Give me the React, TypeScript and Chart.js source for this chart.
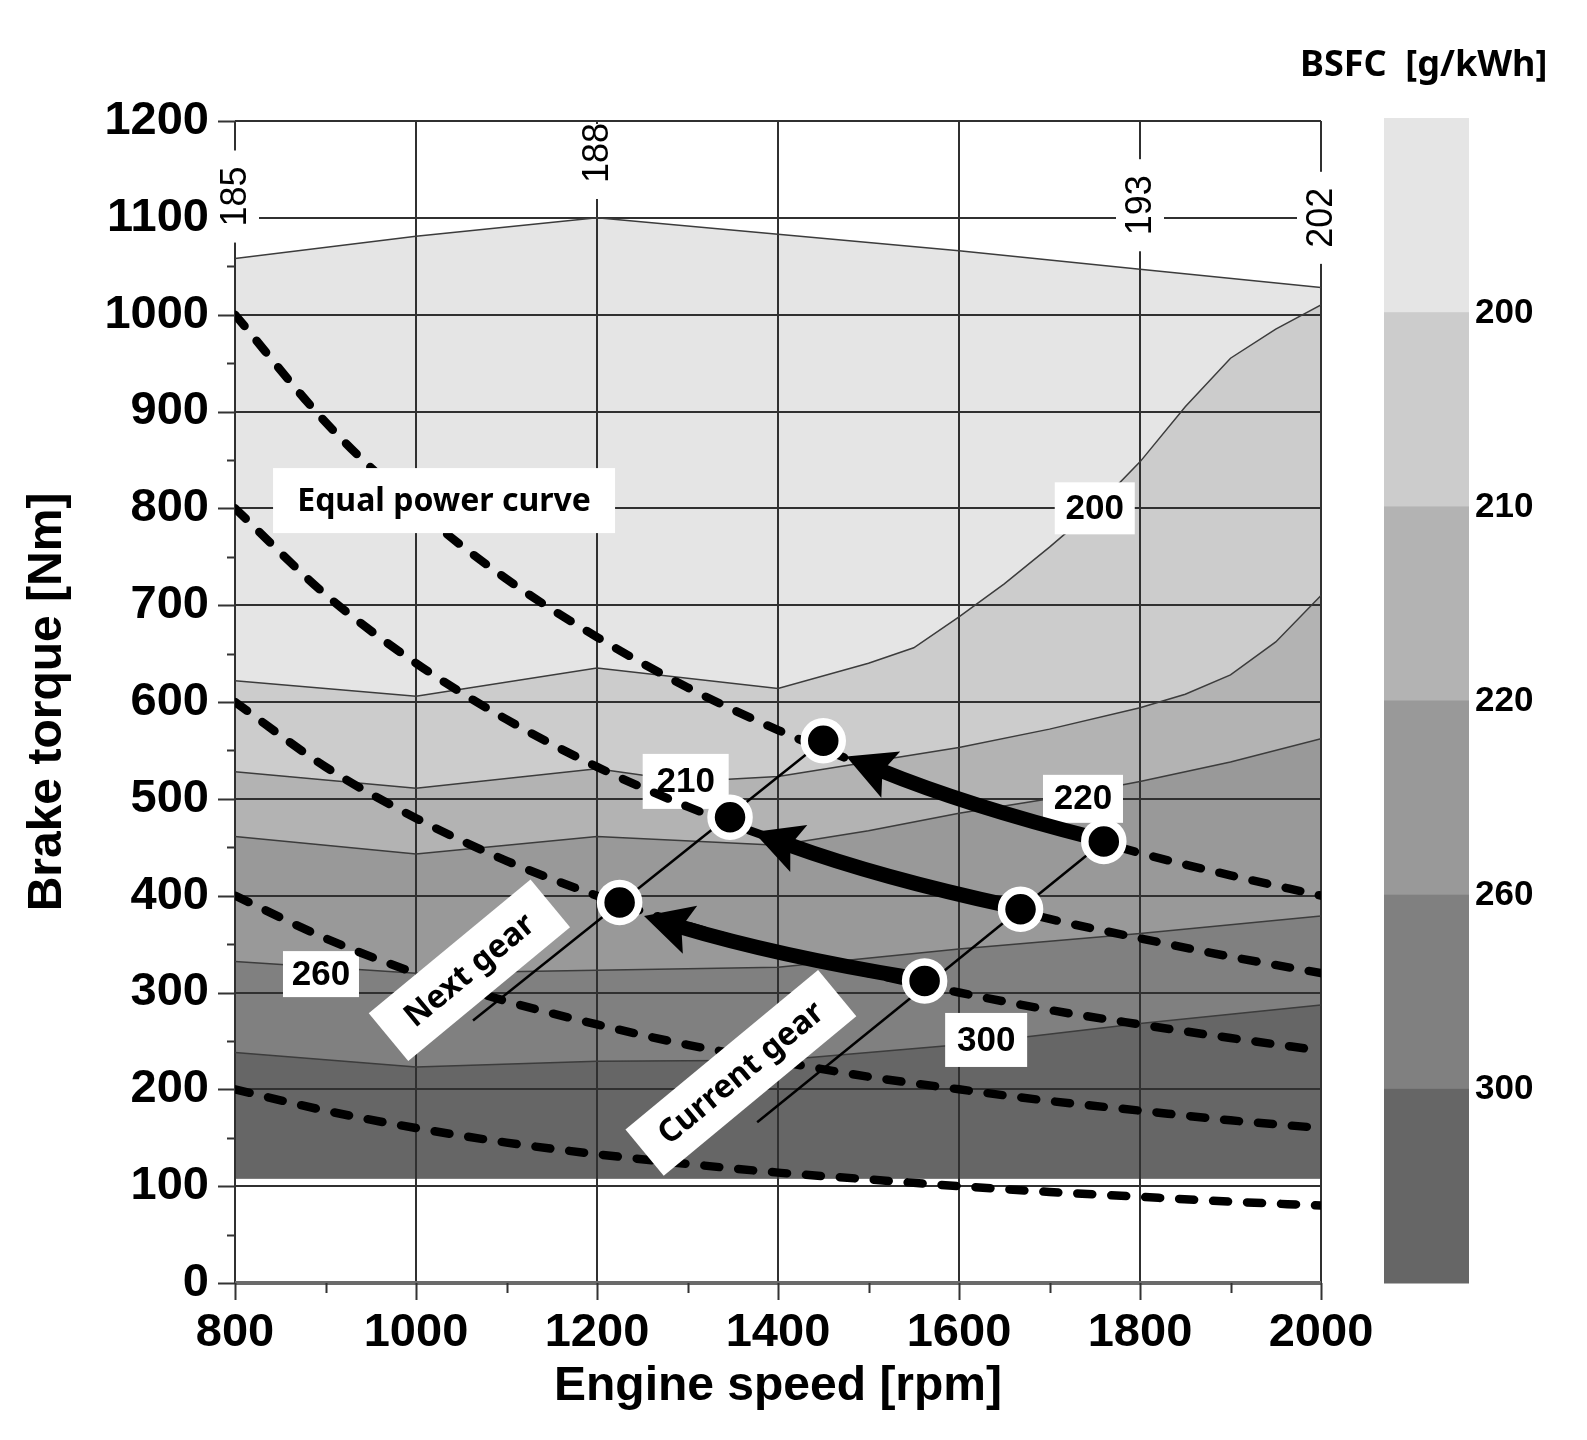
import React, { useEffect, useRef } from 'react';
import { Chart, registerables } from 'chart.js';

Chart.register(...registerables);

// ---------- data ----------
const powerRpm = [800, 900, 1000, 1100, 1200, 1300, 1400, 1500, 1600, 1700, 1800, 1900, 2000];
const power1Nm = [1000, 889, 800, 727, 667, 615, 571, 533, 500, 471, 444, 421, 400];
const power2Nm = [800, 711, 640, 582, 533, 492, 457, 427, 400, 376, 356, 337, 320];
const power3Nm = [600, 533, 480, 436, 400, 369, 343, 320, 300, 282, 267, 253, 240];
const power4Nm = [400, 356, 320, 291, 267, 246, 229, 213, 200, 188, 178, 168, 160];
const power5Nm = [200, 178, 160, 145, 133, 123, 114, 107, 100, 94, 89, 84, 80];

const maxTorqueRpm = [800, 1000, 1200, 1400, 1600, 1800, 2000];
const maxTorqueNm = [1058, 1081, 1100, 1083, 1066, 1047, 1028];

const bsfc200Rpm = [800, 1000, 1200, 1400, 1500, 1550, 1600, 1650, 1700, 1750, 1800, 1850, 1900, 1950, 2000];
const bsfc200Nm = [622, 606, 635, 614, 640, 656, 688, 722, 760, 800, 848, 905, 955, 985, 1010];

const bsfc210Rpm = [800, 1000, 1200, 1300, 1400, 1500, 1600, 1700, 1800, 1850, 1900, 1950, 2000];
const bsfc210Nm = [528, 511, 531, 518, 523, 538, 553, 572, 594, 608, 628, 662, 710];

const bsfc220Rpm = [800, 1000, 1200, 1400, 1500, 1600, 1700, 1800, 1900, 2000];
const bsfc220Nm = [461, 443, 461, 452, 467, 485, 500, 518, 538, 562];

const bsfc260Rpm = [800, 1000, 1200, 1400, 1600, 1800, 2000];
const bsfc260Nm = [332, 320, 323, 326, 345, 361, 379];

const bsfc300Rpm = [800, 1000, 1200, 1400, 1600, 1800, 2000];
const bsfc300Nm = [238, 223, 229, 230, 246, 268, 287];

const mapFloorNm = 108;

const nextGearLineRpm = [1063, 1450];
const nextGearLineNm = [271, 560];
const currentGearLineRpm = [1377, 1760];
const currentGearLineNm = [166, 456];

const shiftFromRpm = [1760, 1668, 1562];
const shiftFromNm = [456, 386, 312];
const shiftToRpm = [1450, 1347, 1225];
const shiftToNm = [560, 481, 393];

const bsfcLevels = ['200', '210', '220', '260', '300'];
const bsfcColors = ['#e5e5e5', '#cccccc', '#b3b3b3', '#999999', '#808080', '#666666'];

const contourLabelText = ['200', '210', '220', '260', '300'];
const contourLabelRpm = [1750, 1298, 1737, 895, 1630];
const contourLabelNm = [800, 518, 500, 319, 251];

const topLabelText = ['185', '188', '193', '202'];
const topLabelRpm = [800, 1200, 1800, 2000];
const topLabelNm = [1122, 1167, 1113, 1100];

const gearLabelText = ['Next gear', 'Current gear'];
const gearLabelRpm = [1059, 1359];
const gearLabelNm = [323, 217];

const powerLabelText = 'Equal power curve';
const powerLabelRpm = 1031;
const powerLabelNm = 808;

// ---------- styling ----------
const NUM_FONT = "'Liberation Sans', Arial, sans-serif";
const TXT_FONT = "'Noto Sans', 'Open Sans', sans-serif";
const GRID = '#303030';

const pts = (xs: number[], ys: number[]) => xs.map((x, i) => ({ x, y: ys[i] }));

const contourDs = (xs: number[], ys: number[], color: string) => ({
  data: pts(xs, ys),
  borderColor: '#3c3c3c',
  borderWidth: 1.5,
  backgroundColor: color,
  fill: { value: mapFloorNm },
  pointRadius: 0,
  tension: 0,
});

const powerDs = (ys: number[]) => ({
  data: pts(powerRpm, ys),
  borderColor: '#000',
  borderWidth: 8.5,
  borderDash: [15, 19],
  borderCapStyle: 'round',
  fill: false,
  pointRadius: 0,
  cubicInterpolationMode: 'monotone',
});

function boxText(ctx: any, cx: number, cy: number, w: number, h: number, text: string, font: string, angle = 0) {
  ctx.save();
  ctx.translate(cx, cy);
  ctx.rotate((angle * Math.PI) / 180);
  ctx.fillStyle = '#fff';
  ctx.fillRect(-w / 2, -h / 2, w, h);
  ctx.fillStyle = '#000';
  ctx.font = font;
  ctx.textAlign = 'center';
  ctx.textBaseline = 'middle';
  ctx.fillText(text, 0, 1);
  ctx.restore();
}

function drawArrow(ctx: any, sx: number, sy: number, ex: number, ey: number) {
  const dx = ex - sx, dy = ey - sy;
  const len = Math.hypot(dx, dy);
  const ux = dx / len, uy = dy / len;
  let nx = uy, ny = -ux;
  if (ny < 0) { nx = -nx; ny = -ny; }
  const stx = sx + ux * 10, sty = sy + uy * 10;
  const tipx = ex - ux * 27 + nx * 7, tipy = ey - uy * 27 + ny * 7;
  const cx = (stx + tipx) / 2 + nx * 9, cy = (sty + tipy) / 2 + ny * 9;
  let tx = tipx - cx, ty = tipy - cy;
  const tl = Math.hypot(tx, ty);
  tx /= tl; ty /= tl;
  const px = -ty, py = tx;
  const headLen = 48, hw = 25, notch = 9;
  const bx = tipx - tx * (headLen - notch - 2), by = tipy - ty * (headLen - notch - 2);
  ctx.save();
  ctx.strokeStyle = '#000';
  ctx.lineWidth = 15;
  ctx.lineCap = 'butt';
  ctx.beginPath();
  ctx.moveTo(stx, sty);
  ctx.quadraticCurveTo(cx, cy, bx, by);
  ctx.stroke();
  ctx.fillStyle = '#000';
  ctx.beginPath();
  ctx.moveTo(tipx, tipy);
  ctx.lineTo(tipx - tx * headLen + px * hw, tipy - ty * headLen + py * hw);
  ctx.lineTo(tipx - tx * (headLen - notch), tipy - ty * (headLen - notch));
  ctx.lineTo(tipx - tx * headLen - px * hw, tipy - ty * headLen - py * hw);
  ctx.closePath();
  ctx.fill();
  ctx.restore();
}

const overlayPlugin = {
  id: 'overlay',
  beforeDatasetDraw(chart: any, args: any) {
    const ctx = chart.ctx;
    const xs = chart.scales.x, ys = chart.scales.y;
    if (args.index === 7) {
      const sizes = [[80, 52], [86, 55], [80, 48], [76, 46], [82, 54]];
      contourLabelText.forEach((t, i) => {
        boxText(ctx, xs.getPixelForValue(contourLabelRpm[i]), ys.getPixelForValue(contourLabelNm[i]),
          sizes[i][0], sizes[i][1], t, `bold 35px ${NUM_FONT}`);
      });
    }
    if (args.index === 0) {
      shiftFromRpm.forEach((r, i) => {
        drawArrow(ctx, xs.getPixelForValue(r), ys.getPixelForValue(shiftFromNm[i]),
          xs.getPixelForValue(shiftToRpm[i]), ys.getPixelForValue(shiftToNm[i]));
      });
    }
  },
  afterDraw(chart: any) {
    const ctx = chart.ctx;
    const xs = chart.scales.x, ys = chart.scales.y;
    const a = chart.chartArea;
    // tick marks
    ctx.save();
    ctx.strokeStyle = '#333';
    ctx.lineWidth = 2;
    ctx.beginPath();
    for (let v = 0; v <= 1200; v += 50) {
      const y = Math.round(ys.getPixelForValue(v)) + 0.5;
      const l = v % 100 === 0 ? 17 : 8;
      ctx.moveTo(a.left - l, y);
      ctx.lineTo(a.left, y);
    }
    for (let v = 800; v <= 2000; v += 100) {
      const x = Math.round(xs.getPixelForValue(v)) + 0.5;
      const l = v % 200 === 0 ? 17 : 10;
      ctx.moveTo(x, a.bottom);
      ctx.lineTo(x, a.bottom + l);
    }
    ctx.stroke();
    ctx.restore();

    // rotated top labels
    ctx.save();
    ctx.font = `36px ${NUM_FONT}`;
    topLabelText.forEach((t, i) => {
      const cx = xs.getPixelForValue(topLabelRpm[i]);
      const cy = ys.getPixelForValue(topLabelNm[i]);
      const tw = ctx.measureText(t).width;
      let top = cy - tw / 2 - 16;
      const bot = cy + tw / 2 + 16;
      if (top < a.top + 3) top = a.top + 3;
      ctx.fillStyle = '#fff';
      ctx.fillRect(cx - 24, top, 48, bot - top);
      ctx.save();
      ctx.translate(cx, cy);
      ctx.rotate(-Math.PI / 2);
      ctx.fillStyle = '#000';
      ctx.textAlign = 'center';
      ctx.textBaseline = 'middle';
      ctx.fillText(t, 0, 1);
      ctx.restore();
    });
    ctx.restore();

    // equal power label
    boxText(ctx, xs.getPixelForValue(powerLabelRpm), ys.getPixelForValue(powerLabelNm), 342, 65,
      powerLabelText, `bold 32px ${TXT_FONT}`);

    // gear labels
    const gearSizes = [[210, 62], [250, 60]];
    gearLabelText.forEach((t, i) => {
      boxText(ctx, xs.getPixelForValue(gearLabelRpm[i]), ys.getPixelForValue(gearLabelNm[i]),
        gearSizes[i][0], gearSizes[i][1], t, `bold 32px ${TXT_FONT}`, -39.6);
    });

    // colour bar
    const cbL = 1384, cbR = 1469, cbT = a.top - 3, cbB = a.bottom;
    const bh = (cbB - cbT) / bsfcColors.length;
    bsfcColors.forEach((c, i) => {
      ctx.fillStyle = c;
      ctx.fillRect(cbL, cbT + i * bh, cbR - cbL, bh + 0.5);
    });
    ctx.save();
    ctx.fillStyle = '#000';
    ctx.font = `bold 35px ${NUM_FONT}`;
    ctx.textAlign = 'left';
    ctx.textBaseline = 'middle';
    bsfcLevels.forEach((t, i) => {
      ctx.fillText(t, 1475, cbT + (i + 1) * bh + 1);
    });
    ctx.font = `bold 36px ${TXT_FONT}`;
    ctx.fillText('BSFC  [g/kWh]', 1300, 66);
    ctx.restore();
  },
};

export default function App() {
  const ref = useRef<HTMLCanvasElement>(null);
  useEffect(() => {
    if (!ref.current) return;
    const chart = new Chart(ref.current, {
      type: 'line',
      data: {
        datasets: [
          {
            data: [...pts(shiftFromRpm, shiftFromNm), ...pts(shiftToRpm, shiftToNm)],
            showLine: false,
            pointRadius: 19,
            pointBorderWidth: 7.5,
            pointBackgroundColor: '#000',
            pointBorderColor: '#fff',
            borderColor: '#fff',
            backgroundColor: '#000',
          },
          { data: pts(nextGearLineRpm, nextGearLineNm), borderColor: '#000', borderWidth: 2.5, pointRadius: 0, fill: false },
          { data: pts(currentGearLineRpm, currentGearLineNm), borderColor: '#000', borderWidth: 2.5, pointRadius: 0, fill: false },
          powerDs(power1Nm),
          powerDs(power2Nm),
          powerDs(power3Nm),
          powerDs(power4Nm),
          powerDs(power5Nm),
          contourDs(bsfc300Rpm, bsfc300Nm, bsfcColors[5]),
          contourDs(bsfc260Rpm, bsfc260Nm, bsfcColors[4]),
          contourDs(bsfc220Rpm, bsfc220Nm, bsfcColors[3]),
          contourDs(bsfc210Rpm, bsfc210Nm, bsfcColors[2]),
          contourDs(bsfc200Rpm, bsfc200Nm, bsfcColors[1]),
          contourDs(maxTorqueRpm, maxTorqueNm, bsfcColors[0]),
        ] as any,
      },
      options: {
        responsive: false,
        devicePixelRatio: 1,
        animation: false,
        events: [],
        layout: { padding: { top: 121, right: 266, left: 0, bottom: 0 } },
        plugins: {
          legend: { display: false },
          tooltip: { enabled: false },
          filler: { drawTime: 'beforeDraw', propagate: false },
        },
        scales: {
          x: {
            type: 'linear',
            min: 800,
            max: 2000,
            afterFit: (s: any) => { s.height = 157; },
            border: { display: false },
            grid: { color: GRID, lineWidth: 2, drawTicks: false },
            ticks: {
              stepSize: 200,
              autoSkip: false,
              maxRotation: 0,
              padding: 22,
              color: '#000',
              font: { family: NUM_FONT, size: 47, weight: 'bold' },
              callback: (v: any) => String(v),
            },
            title: {
              display: true,
              text: 'Engine speed [rpm]',
              color: '#000',
              font: { family: NUM_FONT, size: 48, weight: 'bold' },
              padding: { top: 0, bottom: 24 },
            },
          },
          y: {
            type: 'linear',
            min: 0,
            max: 1200,
            afterFit: (s: any) => { s.width = 235; },
            border: { display: false },
            grid: {
              color: (c: any) => (c.tick && c.tick.value === 0 ? '#6a6a6a' : GRID),
              lineWidth: (c: any) => (c.tick && c.tick.value === 0 ? 4 : 2),
              drawTicks: false,
            },
            ticks: {
              stepSize: 100,
              autoSkip: false,
              padding: 26,
              color: '#000',
              font: { family: NUM_FONT, size: 47, weight: 'bold' },
              callback: (v: any) => String(v),
            },
            title: {
              display: true,
              text: 'Brake torque [Nm]',
              color: '#000',
              font: { family: NUM_FONT, size: 48, weight: 'bold' },
              padding: { top: 19, bottom: 0 },
            },
          },
        },
      } as any,
      plugins: [overlayPlugin as any],
    });
    return () => chart.destroy();
  }, []);
  return (
    <div style={{ position: 'absolute', left: 0, top: 0, width: 1587, height: 1440, background: '#fff' }}>
      <canvas ref={ref} width={1587} height={1440} style={{ width: 1587, height: 1440, display: 'block' }} />
    </div>
  );
}
